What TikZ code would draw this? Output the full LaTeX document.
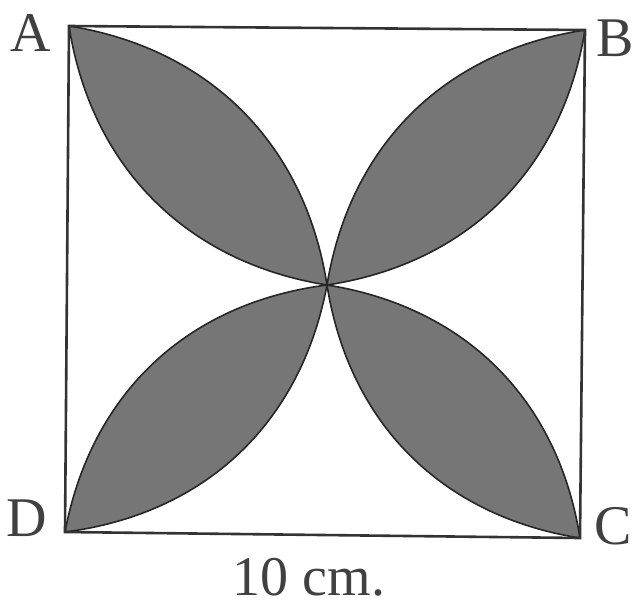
\documentclass[tikz,border=0pt]{standalone}
\usepackage{fontspec}
\setmainfont{Liberation Serif}
\begin{document}
\begin{tikzpicture}[x=1pt,y=-1pt,
  leaf/.style={fill={rgb,255:red,118;green,118;blue,118}, draw=black!85, line width=1.6pt, line join=round},
  sq/.style={draw=black!80, line width=2.6pt},
  lab/.style={font=\fontsize{56}{56}\selectfont, text=black!75, inner sep=0pt}]
\useasboundingbox (0,0) rectangle (636,608);
\coordinate (A) at (69,26);
\coordinate (B) at (585,30);
\coordinate (C) at (580,538);
\coordinate (D) at (65,532);
\coordinate (O) at (327,285);
\draw[leaf] (A) to[bend left=36] (O) to[bend left=36] (A) -- cycle;
\draw[leaf] (B) to[bend left=36] (O) to[bend left=36] (B) -- cycle;
\draw[leaf] (C) to[bend left=36] (O) to[bend left=36] (C) -- cycle;
\draw[leaf] (D) to[bend left=36] (O) to[bend left=36] (D) -- cycle;
\draw[sq] (A) -- (B) -- (C) -- (D) -- cycle;
\node[lab] (la) at (31,33) {A};
\node[lab] (lb) at (615,38) {B};
\node[lab] (lc) at (613,526) {C};
\node[lab] (ld) at (27,518) {D};
\node[lab] (len) at (309,577) {10 cm.};
\end{tikzpicture}
\end{document}
